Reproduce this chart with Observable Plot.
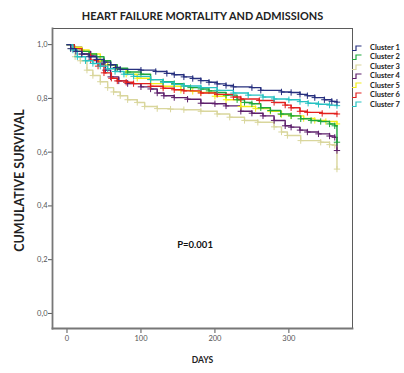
<!DOCTYPE html>
<html><head><meta charset="utf-8">
<script src="https://cdn.jsdelivr.net/npm/d3@7"></script>
<script src="https://cdn.jsdelivr.net/npm/@observablehq/plot@0.6"></script>
<style>
body{margin:0;background:#fff;font-family:Lato,"DejaVu Sans",sans-serif;}
#wrap{position:relative;width:404px;height:373px;}
#legend{position:absolute;left:351px;top:43px;font:bold 7.5px Lato,sans-serif;color:#222;}
#legend div{height:9.45px;line-height:9.45px;white-space:nowrap;display:flex;align-items:center;}
#legend svg{margin-right:8px;margin-left:1px;}
</style></head>
<body><div id="wrap"><div id="chart"></div><div id="legend"></div></div>
<script>
const clusters = ["Cluster 1","Cluster 2","Cluster 3","Cluster 4","Cluster 5","Cluster 6","Cluster 7"];
const colors = ["#27307f","#1ea83c","#d9d69c","#5e206c","#f2ee1a","#e3201e","#27c2c2"];
const yTicks = [0,0.2,0.4,0.6,0.8,1.0];
const xTicks = [0,100,200,300];
const c1Days = [0,5,12,20,30,40,50,59,66,72,100,120,135,145,158,170,181,192,203,215,225,250,262,290,303,315,325,335,348,358,365];
const c1Surv = [1,0.985,0.975,0.965,0.955,0.945,0.935,0.925,0.915,0.908,0.905,0.9,0.893,0.888,0.88,0.874,0.866,0.86,0.854,0.848,0.843,0.84,0.83,0.824,0.822,0.815,0.81,0.803,0.795,0.789,0.786];
const c2Days = [0,10,20,30,40,50,59,68,82,100,113,130,145,158,167,181,192,203,215,230,240,250,262,275,289,303,316,330,343,355,362,365];
const c2Surv = [1,0.985,0.975,0.965,0.955,0.94,0.925,0.912,0.898,0.89,0.87,0.862,0.855,0.846,0.84,0.835,0.828,0.822,0.812,0.795,0.785,0.78,0.765,0.755,0.742,0.735,0.724,0.718,0.714,0.705,0.698,0.637];
const c3Days = [0,5,11,18,27,35,45,55,63,72,82,95,105,122,140,158,181,203,220,240,258,280,290,298,316,343,355,362,365];
const c3Surv = [1,0.985,0.955,0.94,0.905,0.885,0.862,0.84,0.824,0.81,0.795,0.785,0.77,0.762,0.76,0.758,0.752,0.742,0.73,0.718,0.711,0.694,0.675,0.662,0.643,0.637,0.628,0.625,0.537];
const c4Days = [0,9,20,32,40,45,52,59,70,82,100,113,122,131,145,163,181,200,215,235,250,265,280,295,303,315,325,340,355,362,365];
const c4Surv = [1,0.99,0.975,0.958,0.94,0.928,0.905,0.88,0.865,0.855,0.843,0.835,0.82,0.81,0.803,0.797,0.782,0.78,0.772,0.752,0.745,0.735,0.718,0.698,0.693,0.682,0.675,0.668,0.66,0.655,0.606];
const c5Days = [0,10,20,30,45,55,65,80,95,113,130,154,170,181,200,215,235,255,275,290,303,320,335,350,365];
const c5Surv = [1,0.99,0.98,0.965,0.94,0.925,0.91,0.89,0.875,0.855,0.845,0.83,0.826,0.822,0.808,0.795,0.77,0.762,0.752,0.74,0.735,0.725,0.718,0.714,0.705];
const c6Days = [0,10,20,32,42,50,60,68,80,90,113,130,145,158,181,203,225,235,260,280,295,303,315,325,345,365];
const c6Surv = [1,0.985,0.965,0.942,0.92,0.895,0.875,0.865,0.86,0.855,0.845,0.838,0.832,0.828,0.82,0.815,0.805,0.798,0.792,0.785,0.775,0.765,0.752,0.748,0.744,0.742];
const c7Days = [0,8,14,25,35,45,55,65,77,90,113,130,145,158,181,203,225,245,265,280,300,315,326,340,355,365];
const c7Surv = [1,0.98,0.955,0.94,0.93,0.92,0.91,0.9,0.89,0.882,0.87,0.86,0.852,0.846,0.84,0.83,0.82,0.812,0.805,0.798,0.795,0.788,0.782,0.778,0.775,0.773];

const series = [[c1Days,c1Surv],[c2Days,c2Surv],[c3Days,c3Surv],[c4Days,c4Surv],[c5Days,c5Surv],[c6Days,c6Surv],[c7Days,c7Surv]];
const rows = [];
series.forEach(([d,s],i)=>d.forEach((day,j)=>rows.push({cluster:clusters[i],day,surv:s[j]})));
const drawOrder = ["Cluster 3","Cluster 4","Cluster 5","Cluster 2","Cluster 6","Cluster 7","Cluster 1"];
const marks = [];
for (const c of drawOrder) {
  const data = rows.filter(r=>r.cluster===c);
  marks.push(Plot.line(data,{x:"day",y:"surv",stroke:"cluster",strokeWidth:1.4,curve:"step-after"}));
  marks.push(Plot.dot(data.filter(r=>r.day>0),{x:"day",y:"surv",stroke:"cluster",symbol:"plus",r:2.2,strokeWidth:1}));
}
const chart = Plot.plot({
  width:404,height:373,marginLeft:52,marginRight:52,marginTop:28,marginBottom:45,
  style:{fontFamily:"Lato, sans-serif",background:"#fff",overflow:"visible"},
  x:{domain:[-19.6,386]},
  y:{domain:[-0.056,1.06]},
  color:{domain:clusters,range:colors},
  marks:[
    Plot.axisY({ticks:yTicks,tickFormat:d=>d3.format(".1f")(d).replace(".",","),tickSize:4,stroke:"#555",fill:"#555",fontSize:7.5,label:null,tickPadding:1}),
    Plot.axisX({ticks:xTicks,tickSize:5,stroke:"#555",fill:"#555",fontSize:7.5,label:null,tickPadding:2}),
    ...marks,
    Plot.frame({stroke:"#333",strokeWidth:0.8}),
    Plot.frame({anchor:"left",stroke:"#777",strokeWidth:1.8}),
    Plot.frame({anchor:"bottom",stroke:"#777",strokeWidth:1.8}),
    Plot.text(["P=0.001"],{x:149,y:0.256,textAnchor:"start",fontWeight:"bold",fontSize:9.5,fill:"#111"}),
    Plot.text(["HEART FAILURE MORTALITY AND ADMISSIONS"],{frameAnchor:"top",dy:-16,fontWeight:"bold",fontSize:10.9,fill:"#222"}),
    Plot.text(["DAYS"],{frameAnchor:"bottom",dy:34,fontWeight:"bold",fontSize:8.5,fill:"#222"}),
    Plot.text(["CUMULATIVE SURVIVAL"],{frameAnchor:"left",textAnchor:"middle",dx:-33,dy:2,rotate:-90,fontWeight:"bold",fontSize:12.5,fill:"#222"})
  ]
});
document.getElementById("chart").append(chart);
const leg = d3.select("#legend");
clusters.forEach((c,i)=>{
  const row = leg.append("div");
  const s = row.append("svg").attr("width",10).attr("height",6);
  s.append("path").attr("d","M0,5.5H4V1H9.5").attr("fill","none").attr("stroke",colors[i]).attr("stroke-width",1.2);
  row.append("span").text(c);
});
</script></body></html>
